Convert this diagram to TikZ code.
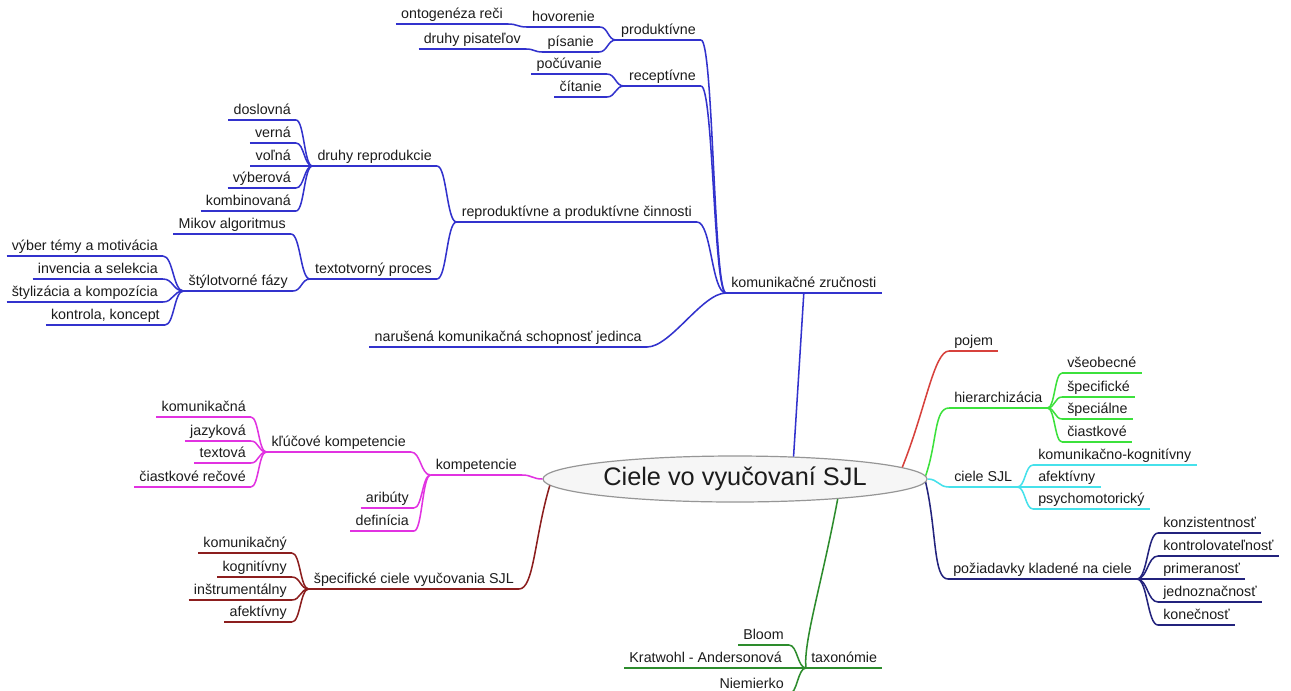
\documentclass[tikz,border=0pt]{standalone}
\usepackage{fontspec}
\setmainfont{Liberation Sans}
\usetikzlibrary{shapes.geometric,calc}

\definecolor{txt}{RGB}{28,28,28}
\definecolor{cBlue}{RGB}{50,50,205}
\definecolor{cMag}{RGB}{225,50,225}
\definecolor{cBrown}{RGB}{140,30,30}
\definecolor{cGreenD}{RGB}{45,140,45}
\definecolor{cRed}{RGB}{215,65,60}
\definecolor{cGreenL}{RGB}{60,225,60}
\definecolor{cCyan}{RGB}{70,225,235}
\definecolor{cNavy}{RGB}{35,35,125}

\tikzset{
  branch/.style={draw=black, line width=1.15pt},
  topic/.style={font=\fontsize{10.7pt}{12pt}\selectfont, text=txt,
    inner xsep=3.75pt, inner ysep=1pt, text height=7.8pt, text depth=2.7pt,
    append after command={(\tikzlastnode.south west) edge[branch] (\tikzlastnode.south east)}},
  tl/.style={topic, anchor=south east},
  tr/.style={topic, anchor=south west},
  % S curve between a parent's junction and a child's underline,
  % horizontal at both ends; #1 sets how far the tangents reach
  sconn/.style={to path={.. controls ($(\tikztostart)!#1!(\tikztotarget |- \tikztostart)$)
      and ($(\tikztotarget)!#1!(\tikztostart |- \tikztotarget)$) .. (\tikztotarget)}},
  sconn/.default=.5,
  % curve leaving the central ellipse
  rconn/.style={to path={.. controls ($(\tikztostart)!.5!(\tikztotarget)$) and ($(\tikztotarget)+(#1,0)$) .. (\tikztotarget)}},
  rootnode/.style={ellipse, draw={rgb,255:red,150;green,150;blue,150}, line width=0.9pt,
    fill={rgb,255:red,246;green,246;blue,246}, inner sep=0pt,
    minimum width=288pt, minimum height=34.5pt, text=txt,
    font=\fontsize{19pt}{22pt}\selectfont},
}

\begin{document}
\begin{tikzpicture}[x=0.75pt,y=-0.75pt]
\useasboundingbox (0,0) rectangle (1291,690);
\fill[white] (0,0) rectangle (1291,690);

\node[rootnode] (root) at (735,479) {Ciele vo vyučovaní SJL};

% ---------- komunikačné zručnosti ----------
\begin{scope}[branch/.style={draw=cBlue, line width=1.15pt}]
\node[tr] (kz) at (726,293) {komunikačné zručnosti};
\node[tl] (prod) at (701,40) {produktívne};
\node[tl] (hov) at (600,27) {hovorenie};
\node[tl] (onto) at (508,24) {ontogenéza reči};
\node[tl] (pis) at (599,52) {písanie};
\node[tl] (druhyp) at (526,49) {druhy pisateľov};
\node[tl] (rec) at (701,86) {receptívne};
\node[tl] (pocu) at (607,74) {počúvanie};
\node[tl] (cit) at (607,97) {čítanie};
\node[tl] (repr) at (697,222) {reproduktívne a produktívne činnosti};
\node[tl] (druhyr) at (437,166) {druhy reprodukcie};
\node[tl] (dosl) at (296,120) {doslovná};
\node[tl] (verna) at (296,143) {verná};
\node[tl] (volna) at (296,166) {voľná};
\node[tl] (vyber) at (296,188) {výberová};
\node[tl] (komb) at (296,211) {kombinovaná};
\node[tl] (textp) at (437,279) {textotvorný proces};
\node[tl] (mikov) at (291,234) {Mikov algoritmus};
\node[tl] (stylf) at (293,291) {štýlotvorné fázy};
\node[tl] (vyberT) at (163,256) {výber témy a motivácia};
\node[tl] (inv) at (163,279) {invencia a selekcia};
\node[tl] (stylK) at (163,302) {štylizácia a kompozícia};
\node[tl] (kontr) at (165,325) {kontrola, koncept};
\node[tl] (narus) at (647,347) {narušená komunikačná schopnosť jedinca};

\draw[branch] (root.21.8) -- (kz.south);
\foreach \c in {prod,rec,repr} \draw[branch,sconn] (\c.south east) to (kz.south west);
\draw[branch,sconn=.3] (narus.south east) to (kz.south west);
\foreach \c in {hov,pis} \draw[branch,sconn] (\c.south east) to (prod.south west);
\draw[branch,sconn] (onto.south east) to (hov.south west);
\draw[branch,sconn] (druhyp.south east) to (pis.south west);
\foreach \c in {pocu,cit} \draw[branch,sconn] (\c.south east) to (rec.south west);
\foreach \c in {druhyr,textp} \draw[branch,sconn] (\c.south east) to (repr.south west);
\foreach \c in {dosl,verna,volna,vyber,komb} \draw[branch,sconn] (\c.south east) to (druhyr.south west);
\foreach \c in {mikov,stylf} \draw[branch,sconn] (\c.south east) to (textp.south west);
\foreach \c in {vyberT,inv,stylK,kontr} \draw[branch,sconn] (\c.south east) to (stylf.south west);
\end{scope}

% ---------- kompetencie ----------
\begin{scope}[branch/.style={draw=cMag, line width=1.15pt}]
\node[tl] (komp) at (522,475) {kompetencie};
\node[tl] (klk) at (411,452) {kľúčové kompetencie};
\node[tl] (komun) at (251,417) {komunikačná};
\node[tl] (jaz) at (251,441) {jazyková};
\node[tl] (textova) at (251,463) {textová};
\node[tl] (ciastR) at (251,487) {čiastkové rečové};
\node[tl] (arib) at (414,508) {aribúty};
\node[tl] (defin) at (414,531) {definícia};

\draw[branch,sconn] (komp.south east) to (root.180);
\foreach \c in {klk,arib,defin} \draw[branch,sconn] (\c.south east) to (komp.south west);
\foreach \c in {komun,jaz,textova,ciastR} \draw[branch,sconn] (\c.south east) to (klk.south west);
\end{scope}

% ---------- špecifické ciele ----------
\begin{scope}[branch/.style={draw=cBrown, line width=1.15pt}]
\node[tl] (spec) at (519,589) {špecifické ciele vyučovania SJL};
\node[tl] (komY) at (292,553) {komunikačný};
\node[tl] (kogn) at (292,577) {kognitívny};
\node[tl] (instr) at (292,600) {inštrumentálny};
\node[tl] (afekL) at (292,622) {afektívny};

\draw[branch,rconn=15] (root.182) to (spec.south east);
\foreach \c in {komY,kogn,instr,afekL} \draw[branch,sconn] (\c.south east) to (spec.south west);
\end{scope}

% ---------- taxonómie ----------
\begin{scope}[branch/.style={draw=cGreenD, line width=1.15pt}]
\node[tr] (tax) at (806,668) {taxonómie};
\node[tl] (bloom) at (789,645) {Bloom};
\node[tl] (krat) at (787,668) {Kratwohl - Andersonová};
\node[tl] (niem) at (789,694) {Niemierko};

\draw[branch] (root.-11.9) .. controls ($(root.-11.9)!.5!(tax.south west)$) and ($(tax.south west)+(-3,-25)$) .. (tax.south west);
\foreach \c in {bloom,krat,niem} \draw[branch,sconn] (\c.south east) to (tax.south west);
\end{scope}

% ---------- pojem ----------
\begin{scope}[branch/.style={draw=cRed, line width=1.15pt}]
\node[tr] (pojem) at (949,351) {pojem};
\draw[branch,rconn=-15] (root.4.1) to (pojem.south west);
\end{scope}

% ---------- hierarchizácia ----------
\begin{scope}[branch/.style={draw=cGreenL, line width=1.15pt}]
\node[tr] (hier) at (949,408) {hierarchizácia};
\node[tr] (vseob) at (1062,373) {všeobecné};
\node[tr] (spec2) at (1062,397) {špecifické};
\node[tr] (specl) at (1062,419) {špeciálne};
\node[tr] (ciastk) at (1062,442) {čiastkové};

\draw[branch,rconn=-15] (root.1.6) to (hier.south west);
\foreach \c in {vseob,spec2,specl,ciastk} \draw[branch,sconn] (hier.south east) to (\c.south west);
\end{scope}

% ---------- ciele SJL ----------
\begin{scope}[branch/.style={draw=cCyan, line width=1.15pt}]
\node[tr] (cSJL) at (949,487) {ciele SJL};
\node[tr] (kk) at (1033,465) {komunikačno-kognitívny};
\node[tr] (afekR) at (1033,487) {afektívny};
\node[tr] (psych) at (1033,509) {psychomotorický};

\draw[branch,sconn] (root.0) to (cSJL.south west);
\foreach \c in {kk,afekR,psych} \draw[branch,sconn] (cSJL.south east) to (\c.south west);
\end{scope}

% ---------- požiadavky ----------
\begin{scope}[branch/.style={draw=cNavy, line width=1.15pt}]
\node[tr] (poz) at (948,579) {požiadavky kladené na ciele};
\node[tr] (konz) at (1158,533) {konzistentnosť};
\node[tr] (kontrol) at (1158,556) {kontrolovateľnosť};
\node[tr] (primer) at (1158,579) {primeranosť};
\node[tr] (jedn) at (1158,602) {jednoznačnosť};
\node[tr] (konec) at (1158,625) {konečnosť};

\draw[branch,rconn=-15] (root.-1) to (poz.south west);
\foreach \c in {konz,kontrol,primer,jedn,konec} \draw[branch,sconn] (poz.south east) to (\c.south west);
\end{scope}
\end{tikzpicture}
\end{document}
